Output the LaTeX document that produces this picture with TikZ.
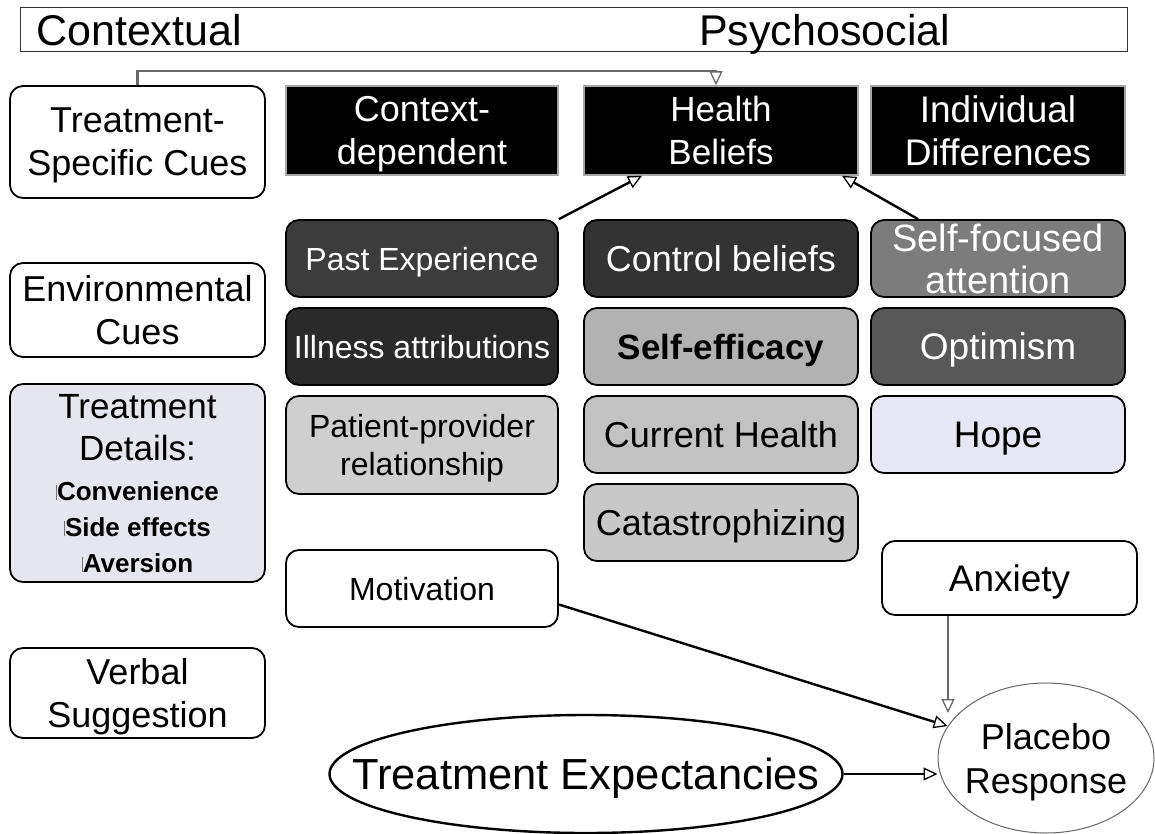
\documentclass[tikz,border=0pt]{standalone}
\usepackage{fontspec}
\setmainfont{Liberation Sans}
\usetikzlibrary{arrows.meta,shapes.geometric}
\definecolor{cPast}{HTML}{3C3C3C}
\definecolor{cIll}{HTML}{2A2A2A}
\definecolor{cCtrl}{HTML}{333333}
\definecolor{cSfa}{HTML}{7C7C7C}
\definecolor{cOpt}{HTML}{585858}
\definecolor{cSeff}{HTML}{B2B2B2}
\definecolor{cCur}{HTML}{C2C2C2}
\definecolor{cCat}{HTML}{C8C8C8}
\definecolor{cPpr}{HTML}{CFCFCF}
\definecolor{cHope}{HTML}{E6E6F4}
\definecolor{cDet}{HTML}{E6E6EE}
\definecolor{cConn}{HTML}{686868}
\begin{document}
\begin{tikzpicture}[x=1pt,y=-1pt,
  base/.style={inner sep=0pt, text depth=0pt, align=center, font=\fontsize{36}{43}\selectfont},
  rbox/.style={base, draw=black, line width=1.8pt, rounded corners=13pt},
  lbox/.style={rbox, minimum width=255pt},
  cbox/.style={rbox, minimum width=272pt, minimum height=77pt, font=\fontsize{32}{38}\selectfont},
  hbox/.style={rbox, minimum width=274pt, minimum height=77pt},
  ibox/.style={rbox, minimum width=254pt, minimum height=77pt, font=\fontsize{37}{43}\selectfont},
  hdr/.style={base, draw=black!35, line width=1.5pt, fill=black, text=white, minimum height=89pt},
  tipo/.style={-{Triangle[open, length=14pt, width=13pt, line width=1.3pt]}},
  arr/.style={tipo, line width=2.4pt},
  garr/.style={tipo, line width=2.2pt, draw=cConn},
  thin arr/.style={tipo, line width=1.4pt},
]
\useasboundingbox (0,0) rectangle (1155,834);

% header strip
\node[draw=black!80, line width=1pt, minimum width=1107pt, minimum height=44pt, inner sep=0pt] (strip) at (573.5,30) {};
\node[anchor=base west, inner sep=0pt, font=\fontsize{43}{50}\selectfont] (contextual) at (36,46) {Contextual};
\node[anchor=base west, inner sep=0pt, font=\fontsize{43}{50}\selectfont] (psychosocial) at (699,46) {Psychosocial};

% left column
\node[lbox, minimum height=112pt] (tsc) at (137.5,142) {Treatment-\\Specific Cues};
\node[lbox, minimum height=94pt] (env) at (137.5,310) {Environmental\\Cues};
\node[lbox, minimum height=198pt, fill=cDet, font=\fontsize{35}{42}\selectfont] (tdet) at (137.5,483)
  {Treatment\\Details:\\[-2pt]
   {\fontsize{26}{30}\selectfont\bfseries\textcolor{black!55}{\rule{1pt}{15pt}}Convenience}\\[-6pt]
   {\fontsize{26}{30}\selectfont\bfseries\textcolor{black!55}{\rule{1pt}{15pt}}Side effects}\\[-6pt]
   {\fontsize{26}{30}\selectfont\bfseries\textcolor{black!55}{\rule{1pt}{15pt}}Aversion}};
\node[lbox, minimum height=90pt] (verbal) at (137.5,693) {Verbal\\Suggestion};

% black headers
\node[hdr, minimum width=272pt] (ctx) at (422,130.5) {Context-\\dependent};
\node[hdr, minimum width=274pt, font=\fontsize{35}{43}\selectfont] (hb) at (721,130.5) {Health\\Beliefs};
\node[hdr, minimum width=254pt, font=\fontsize{37}{43}\selectfont] (ind) at (998,130.5) {Individual\\Differences};

% column 2
\node[cbox, fill=cPast, text=white] (past) at (422,258.5) {Past Experience};
\node[cbox, fill=cIll, text=white] (ill) at (422,346.5) {Illness attributions};
\node[cbox, minimum height=98pt, fill=cPpr] (ppr) at (422,445) {Patient-provider\\relationship};
\node[cbox, fill=white] (mot) at (422,588.5) {Motivation};

% column 3
\node[hbox, fill=cCtrl, text=white] (ctrl) at (721,258.5) {Control beliefs};
\node[hbox, fill=cSeff, font=\fontsize{35}{40}\selectfont\bfseries] (seff) at (721,346.5) {Self-efficacy};
\node[hbox, fill=cCur] (cur) at (721,434.5) {Current Health};
\node[hbox, fill=cCat] (cat) at (721,522.5) {Catastrophizing};

% column 4
\node[ibox, fill=cSfa, text=white, font=\fontsize{38}{42}\selectfont] (sfa) at (998,258.5) {Self-focused\\attention};
\node[ibox, fill=cOpt, text=white] (opt) at (998,346.5) {Optimism};
\node[ibox, fill=cHope] (hope) at (998,434.5) {Hope};
\node[rbox, minimum width=255pt, minimum height=74pt, fill=white, font=\fontsize{37}{43}\selectfont] (anx) at (1009.5,578) {Anxiety};

% ellipses
\node[ellipse, draw=black!60, line width=1pt, minimum width=216pt, minimum height=150pt,
      inner xsep=-16pt, inner ysep=0pt, text depth=0pt, align=center, font=\fontsize{36}{44}\selectfont] (plac) at (1046,758) {Placebo\\Response};
\node[ellipse, draw=black, line width=2.4pt, minimum width=513pt, minimum height=118pt,
      inner xsep=-70pt, inner ysep=0pt, text depth=0pt, font=\fontsize{43.5}{50}\selectfont] (texp) at (586,774) {Treatment Expectancies};

\coordinate (anxend) at (948,713);

% connectors
\draw[garr] (tsc.north) -- (tsc.north |- 0,71) -| ([xshift=-5pt]hb.north);
\draw[arr] (past.north east) -- ([xshift=-79pt]hb.south);
\draw[arr] ([xshift=-80pt]sfa.north) -- ([xshift=121pt]hb.south);
\draw[arr] ([yshift=-16pt]mot.east) -- (plac.162);
\draw[garr] ([xshift=-61.5pt]anx.south) -- (anxend);
\draw[thin arr] (texp.east) -- (texp.east -| plac.west);
\end{tikzpicture}
\end{document}
